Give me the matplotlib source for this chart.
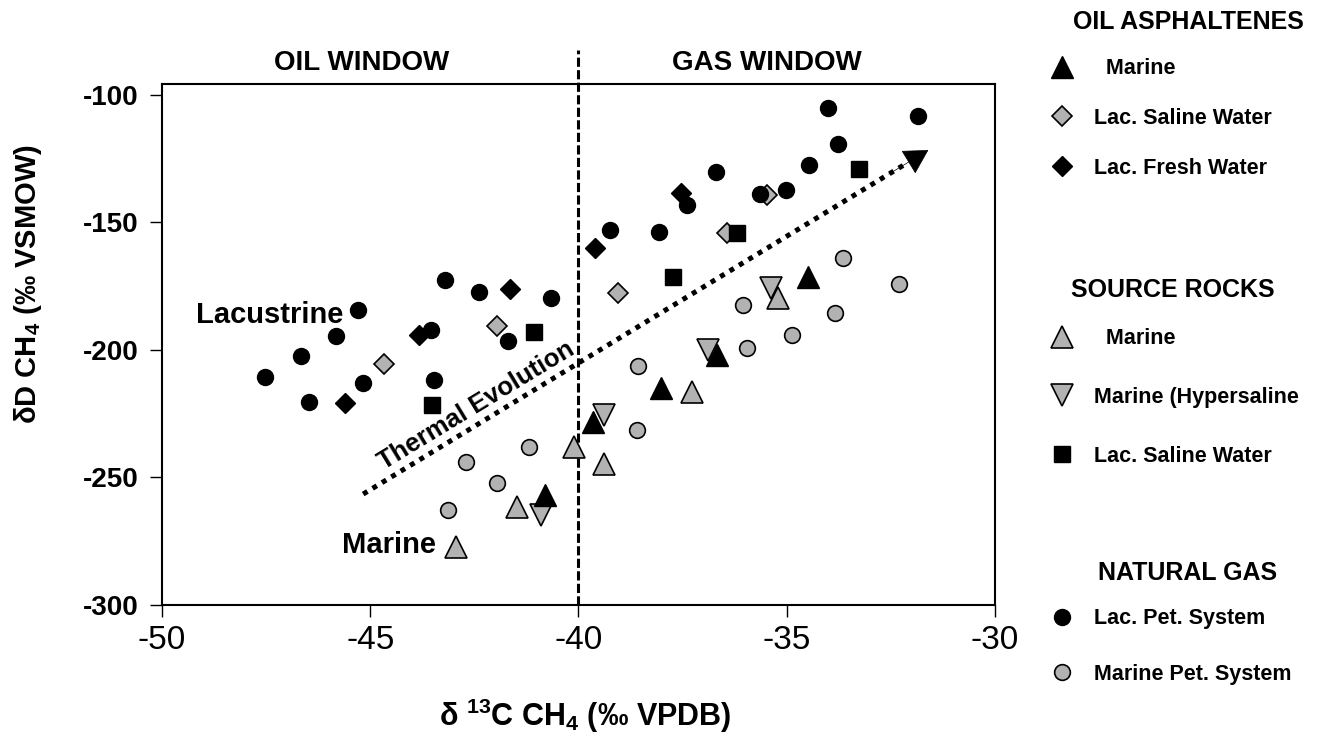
import numpy as np
import matplotlib
matplotlib.use("Agg")
import matplotlib.pyplot as plt
import matplotlib.transforms as mtransforms

plt.rcParams['font.family'] = ['Liberation Sans', 'DejaVu Sans']
plt.rcParams['mathtext.default'] = 'regular'

# oil asphaltenes
oil_marine_x = [-40.8, -39.64, -38.02, -36.68, -34.48]
oil_marine_y = [-256.9, -228.1, -215.0, -202.0, -171.3]
oil_lacsal_x = [-44.66, -41.96, -39.04, -36.44, -35.48]
oil_lacsal_y = [-205.5, -190.5, -177.8, -154.0, -139.2]
oil_lacfresh_x = [-45.6, -43.82, -41.64, -39.6, -37.55]
oil_lacfresh_y = [-220.9, -194.2, -176.2, -160.1, -138.3]

# source rocks
src_marine_x = [-42.93, -41.47, -40.1, -39.38, -37.27, -35.2]
src_marine_y = [-277.1, -261.4, -237.9, -244.7, -216.6, -179.8]
src_hyper_x = [-40.9, -39.38, -36.88, -35.38]
src_hyper_y = [-264.7, -225.5, -200.0, -175.8]
src_lacsal_x = [-43.51, -41.07, -37.72, -36.2, -33.26]
src_lacsal_y = [-221.7, -193.1, -171.5, -154.2, -129.0]

# natural gas
gas_lac_x = [-47.53, -46.66, -46.46, -45.83, -45.3, -45.17, -43.53, -43.46,
             -43.2, -42.4, -41.7, -40.66, -39.24, -38.07, -37.4, -36.7,
             -35.64, -35.03, -34.46, -34.0, -33.76, -31.86]
gas_lac_y = [-210.5, -202.4, -220.3, -194.4, -184.3, -213.1, -192.2, -211.8,
             -172.5, -177.4, -196.4, -179.5, -152.9, -153.6, -143.3, -130.2,
             -138.8, -137.3, -127.5, -105.2, -119.2, -108.2]
gas_mar_x = [-43.14, -42.7, -41.96, -41.18, -38.6, -38.56, -35.96, -36.04,
             -34.87, -33.84, -33.64, -32.3]
gas_mar_y = [-262.7, -244.0, -252.3, -238.2, -231.4, -206.2, -199.1, -182.4,
             -194.2, -185.4, -164.0, -174.1]

xticks = [-50, -45, -40, -35, -30]
yticks = [-300, -250, -200, -150, -100]

arrow_start = (-45.17, -256.5)
arrow_end = (-31.6, -121.6)

gray = '#b2b2b2'

fig = plt.figure(figsize=(13.27, 7.38), dpi=100)
ax = fig.add_axes([162 / 1327, 133 / 738, 833 / 1327, 521 / 738])

h_lacsal, = ax.plot(oil_lacsal_x, oil_lacsal_y, 'D', ms=9.8, mfc=gray, mec='black', mew=1.2, ls='none', zorder=3)
h_hyper, = ax.plot(src_hyper_x, src_hyper_y, 'v', ms=15.6, mfc=gray, mec='black', mew=1.2, ls='none', zorder=4)
h_srcmar, = ax.plot(src_marine_x, src_marine_y, '^', ms=16, mfc=gray, mec='black', mew=1.2, ls='none', zorder=5)
h_gasmar, = ax.plot(gas_mar_x, gas_mar_y, 'o', ms=11.3, mfc=gray, mec='black', mew=1.2, ls='none', zorder=5)
h_oilmar, = ax.plot(oil_marine_x, oil_marine_y, '^', ms=16.3, mfc='black', mec='black', ls='none', zorder=6)
h_fresh, = ax.plot(oil_lacfresh_x, oil_lacfresh_y, 'D', ms=10.5, mfc='black', mec='black', ls='none', zorder=6)
h_srclac, = ax.plot(src_lacsal_x, src_lacsal_y, 's', ms=11.2, mfc='black', mec='black', ls='none', zorder=7)
h_gaslac, = ax.plot(gas_lac_x, gas_lac_y, 'o', ms=11.5, mfc='black', mec='black', ls='none', zorder=8)

ax.set_xlim(-50, -30)
ax.set_ylim(-300, -95.7)
ax.set_xticks(xticks)
ax.set_yticks(yticks)
ax.set_xticklabels([str(v) for v in xticks], fontsize=24)
ax.set_yticklabels([str(v) for v in yticks], fontsize=20, fontweight='bold')
ax.tick_params(direction='out', length=8.6, width=1, pad=8)
ax.tick_params(axis='x', pad=6)
for s in ax.spines.values():
    s.set_linewidth(1.5)

ax.set_xlabel('δ $^{13}$C CH$_4$ (‰ VPDB)', fontsize=22, fontweight='bold')
ax.xaxis.set_label_coords(0.508, -0.176)
ax.set_ylabel('δD CH$_4$ (‰ VSMOW)', fontsize=21, fontweight='bold')
ax.yaxis.set_label_coords(-0.142, 0.615)

# oil / gas window divider
trans = mtransforms.blended_transform_factory(ax.transData, ax.transAxes)
ax.plot([-40, -40], [0, 1.065], transform=trans, color='black', lw=2.2,
        dashes=(3.0, 1.1), clip_on=False, zorder=2)
ax.text(-45.2, 1.04, 'OIL WINDOW', transform=trans, ha='center', va='center',
        fontsize=20, fontweight='bold')
ax.text(-35.47, 1.04, 'GAS WINDOW', transform=trans, ha='center', va='center',
        fontsize=20, fontweight='bold')

# thermal evolution arrow
sx, sy = arrow_start
ex, ey = arrow_end
ax.plot([sx, sx + 0.96 * (ex - sx)], [sy, sy + 0.96 * (ey - sy)], color='black',
        lw=3.6, ls=(0, (1, 1.2)), zorder=2)
ax.annotate('', xy=arrow_end, xytext=(sx + 0.93 * (ex - sx), sy + 0.93 * (ey - sy)),
            arrowprops=dict(arrowstyle='-|>,head_length=0.8,head_width=0.45',
                            mutation_scale=20, color='black', lw=0.5,
                            shrinkA=0, shrinkB=0), zorder=2)
ax.text(-42.45, -222.0, 'Thermal Evolution', rotation=31.3, rotation_mode='anchor',
        ha='center', va='center', fontsize=18.5, fontweight='bold')
ax.text(-45.65, -186.3, 'Lacustrine', ha='right', va='center', fontsize=21, fontweight='bold')
ax.text(-43.42, -276.5, 'Marine', ha='right', va='center', fontsize=21, fontweight='bold')

# legend blocks
head = dict(ha='center', va='center', fontsize=18, fontweight='bold')
fig.text(1188 / 1327, 1 - 22 / 738, 'OIL ASPHALTENES', **head)
fig.text(1173 / 1327, 1 - 290 / 738, 'SOURCE ROCKS', **head)
fig.text(1188 / 1327, 1 - 573 / 738, 'NATURAL GAS', **head)

leg_kw = dict(loc='center left', frameon=False, handlelength=1.2, handletextpad=0.87,
              borderpad=0.4, prop={'size': 15.5, 'weight': 'bold'})
fig.legend([h_oilmar, h_lacsal, h_fresh],
           ['  Marine', 'Lac. Saline Water', 'Lac. Fresh Water'],
           bbox_to_anchor=(1030 / 1327, 1 - 118.5 / 738), labelspacing=1.33, **leg_kw)
fig.legend([h_srcmar, h_hyper, h_srclac],
           ['  Marine', 'Marine (Hypersaline', 'Lac. Saline Water'],
           bbox_to_anchor=(1030 / 1327, 1 - 397.5 / 738), labelspacing=1.76, **leg_kw)
fig.legend([h_gaslac, h_gasmar],
           ['Lac. Pet. System', 'Marine Pet. System'],
           bbox_to_anchor=(1030 / 1327, 1 - 646.5 / 738), labelspacing=1.6, **leg_kw)

fig.savefig('out.png', dpi=100)
